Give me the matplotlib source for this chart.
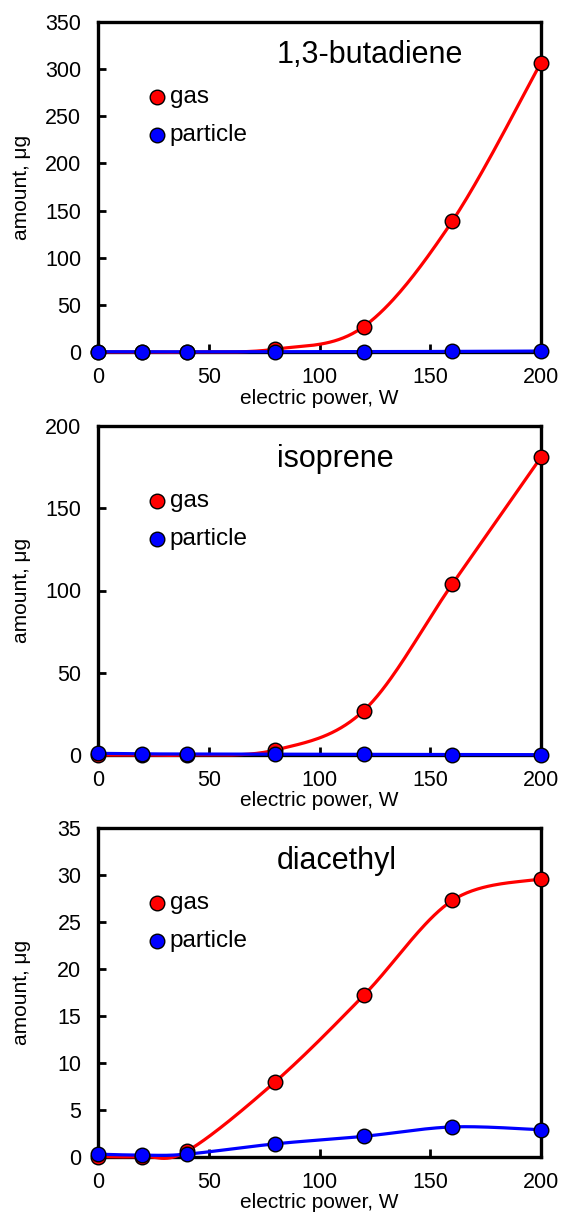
import matplotlib
matplotlib.use("Agg")
import matplotlib.pyplot as plt
import numpy as np

plt.rcParams['font.family'] = ['Liberation Sans', 'DejaVu Sans']

power = [0, 20, 40, 80, 120, 160, 200]

butadiene_gas = [0.0, 0.0, 0.0, 3.0, 27.0, 139.0, 307.0]
butadiene_particle = [0.3, 0.2, 0.2, 0.3, 0.4, 0.6, 1.0]

isoprene_gas = [0.0, 0.0, 0.0, 3.0, 27.0, 104.0, 181.0]
isoprene_particle = [1.0, 0.7, 0.6, 0.5, 0.4, 0.3, 0.2]

diacethyl_gas = [0.05, 0.05, 0.6, 8.0, 17.2, 27.3, 29.6]
diacethyl_particle = [0.3, 0.2, 0.3, 1.4, 2.2, 3.2, 2.9]

compounds = ['1,3-butadiene', 'isoprene', 'diacethyl']
y_max = [350, 200, 35]
y_step = [50, 50, 5]


def smooth(x, y, n=40):
    # spreadsheet-style smoothed line: cubic Bezier through each point,
    # control points from the neighbouring points (tension 1/6)
    x = np.asarray(x, float)
    y = np.asarray(y, float)
    px = np.concatenate([[x[0]], x, [x[-1]]])
    py = np.concatenate([[y[0]], y, [y[-1]]])
    xs, ys = [], []
    t = np.linspace(0, 1, n)
    for i in range(len(x) - 1):
        p0 = np.array([px[i + 1], py[i + 1]])
        p3 = np.array([px[i + 2], py[i + 2]])
        c1 = p0 + (np.array([px[i + 2], py[i + 2]]) - np.array([px[i], py[i]])) / 6
        c2 = p3 - (np.array([px[i + 3], py[i + 3]]) - np.array([px[i + 1], py[i + 1]])) / 6
        b = ((1 - t) ** 3)[:, None] * p0 + (3 * (1 - t) ** 2 * t)[:, None] * c1 \
            + (3 * (1 - t) * t ** 2)[:, None] * c2 + (t ** 3)[:, None] * p3
        xs.append(b[:, 0])
        ys.append(b[:, 1])
    return np.concatenate(xs), np.concatenate(ys)


fig = plt.figure(figsize=(5.61, 12.13), dpi=100)

left = 98 / 561
width = (541 - 98) / 561
panels = [(22, 352), (426, 755), (828, 1157)]
series = [(butadiene_gas, butadiene_particle),
          (isoprene_gas, isoprene_particle),
          (diacethyl_gas, diacethyl_particle)]

for k, (top, bottom) in enumerate(panels):
    h = bottom - top
    ax = fig.add_axes([left, 1 - bottom / 1213, width, h / 1213])
    gas, particle = series[k]
    for vals, col in [(gas, '#ff0000'), (particle, '#0000ff')]:
        sx, sy = smooth(power, vals)
        ax.plot(sx, sy, color=col, lw=2.3, solid_capstyle='butt', clip_on=False, zorder=3)
    for vals, col in [(gas, '#ff0000'), (particle, '#0000ff')]:
        ax.plot(power, vals, 'o', ms=10.5, mfc=col, mec='black', mew=1.0,
                clip_on=False, zorder=4)

    ax.set_xlim(0, 200)
    ax.set_ylim(0, y_max[k])
    ax.set_xticks(range(0, 201, 50))
    ax.set_yticks(range(0, y_max[k] + 1, y_step[k]))
    ax.tick_params(direction='in', length=6, width=2, labelsize=15.5,
                   colors='black')
    ax.tick_params(axis='y', pad=12)
    ax.tick_params(axis='x', pad=11)
    for s in ax.spines.values():
        s.set_linewidth(2.4)
    ax.set_xlabel('electric power, W', fontsize=15, va='center')
    ax.xaxis.set_label_coords(0.5, -46 / h)
    ax.set_ylabel('amount, μg', fontsize=15, va='center', rotation_mode='anchor')
    ax.yaxis.set_label_coords(-76 / 443, 0.5)

    ax.text(0.404, 0.876, compounds[k], transform=ax.transAxes,
            ha='left', va='baseline', fontsize=22)
    for yy, lab, col in [(0.773, 'gas', '#ff0000'), (0.658, 'particle', '#0000ff')]:
        ax.plot([0.133], [yy], 'o', ms=10.5, mfc=col, mec='black', mew=1.0,
                transform=ax.transAxes, zorder=5)
        ax.text(0.162, yy, lab, transform=ax.transAxes, ha='left', va='center',
                fontsize=17.5)

fig.savefig('out.png', dpi=100)
